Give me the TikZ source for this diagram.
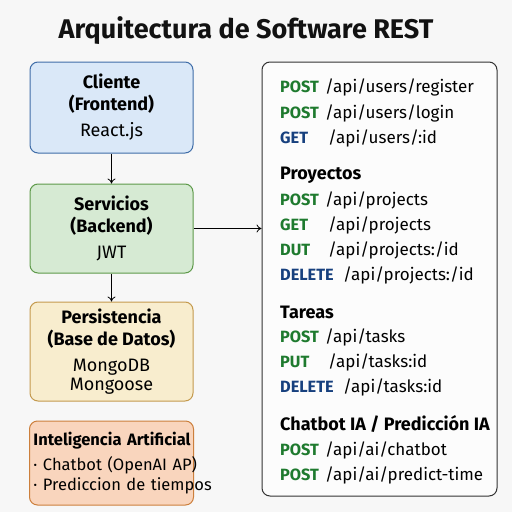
\documentclass[tikz,border=0pt]{standalone}
\usepackage{fontspec}
\setmainfont{Fira Sans}
\usetikzlibrary{positioning}
\usetikzlibrary{arrows.meta}

\definecolor{bgGray}{HTML}{F7F7F7}
\definecolor{cliFill}{HTML}{DAE8F8}
\definecolor{cliLine}{HTML}{3F6DA8}
\definecolor{srvFill}{HTML}{D6EAD3}
\definecolor{srvLine}{HTML}{5E9A4A}
\definecolor{dbFill}{HTML}{F8EDCE}
\definecolor{dbLine}{HTML}{C49A4E}
\definecolor{aiFill}{HTML}{F9D5BD}
\definecolor{aiLine}{HTML}{CC7F3C}
\definecolor{mgreen}{HTML}{1E7A2E}
\definecolor{mblue}{HTML}{17407E}

\begin{document}
\begin{tikzpicture}[x=1pt,y=-1pt,
    layer/.style={draw,rounded corners=8pt,line width=1pt,minimum width=163pt,
      align=center,font=\fontsize{18}{22}\selectfont},
    meth/.style={anchor=base west,inner sep=0pt,font=\bfseries\fontsize{16.3}{18}\selectfont},
    route/.style={anchor=base west,inner sep=0pt,font=\fontsize{17}{18}\selectfont},
    group/.style={anchor=base west,inner sep=0pt,font=\bfseries\fontsize{18}{20}\selectfont},
    flow/.style={-{To[length=5pt,width=8pt]},line width=0.8pt}]
    \fill[bgGray] (0,0) rectangle (512,512);
    \node[font=\bfseries\fontsize{27}{30}\selectfont,text=black!93] (title) at (246,31) {Arquitectura de Software REST};
    % capas
    \node[layer,fill=cliFill,draw=cliLine,minimum height=91pt] (cli) at (111.5,107.5)
      {\textbf{Cliente}\\\textbf{(Frontend)}\\[4pt]React.js};
    \node[layer,fill=srvFill,draw=srvLine,minimum height=89pt,below=30pt of cli] (srv)
      {\textbf{Servicios}\\\textbf{(Backend)}\\[4pt]JWT};
    \node[layer,fill=dbFill,draw=dbLine,minimum height=99pt,below=28pt of srv] (db)
      {\textbf{Persistencia}\\\textbf{(Base de Datos)}\\[4pt]MongoDB\\[-3pt]Mongoose};
    \node[layer,fill=aiFill,draw=aiLine,minimum height=84pt,minimum width=164pt,below=19pt of db,
      text width=156pt,align=left,font=\fontsize{16.5}{20}\selectfont] (ai)
      {\mbox{\textbf{Inteligencia Artificial}}\\[5pt]\mbox{\textperiodcentered\ Chatbot (OpenAI AP)}\\\mbox{\textperiodcentered\ Prediccion de tiempos}};
    % endpoints
    \node[draw=black!80,fill=white!60!bgGray,rounded corners=8pt,line width=1pt,
      minimum width=235pt,minimum height=434pt] (api) at (379.5,279) {};
    \foreach \y/\c/\m/\x/\p in {87/mgreen/POST/325/{/api/users/register},
        113/mgreen/POST/325/{/api/users/login},
        138/mblue/GET/328/{/api/users/:id},
        200/mgreen/POST/325/{/api/projects},
        225/mgreen/GET/328/{/api/projects},
        250/mgreen/DUT/328/{/api/projects:/id},
        275/mblue/DELETE/343/{/api/projects:/id},
        337/mgreen/POST/325/{/api/tasks},
        362/mgreen/PUT/328/{/api/tasks:id},
        387/mblue/DELETE/343/{/api/tasks:id},
        450/mgreen/POST/325/{/api/ai/chatbot},
        475/mgreen/POST/325/{/api/ai/predict-time}}{
      \node[meth,text=\c] (m\y) at (280,\y+5.5) {\m};
      \node[route] (r\y) at (\x,\y+5.5) {\p};
    }
    \node[group] (proy) at (280,179.5) {Proyectos};
    \node[group] (tar) at (280,318.5) {Tareas};
    \node[group] (chat) at (280,430.5) {Chatbot IA / Predicción IA};
    % conexiones
    \draw[flow] (cli) -- (srv);
    \draw[flow] (srv) -- (db);
    \draw[flow] (srv.east) -- (srv.east -| api.west);
\end{tikzpicture}
\end{document}
